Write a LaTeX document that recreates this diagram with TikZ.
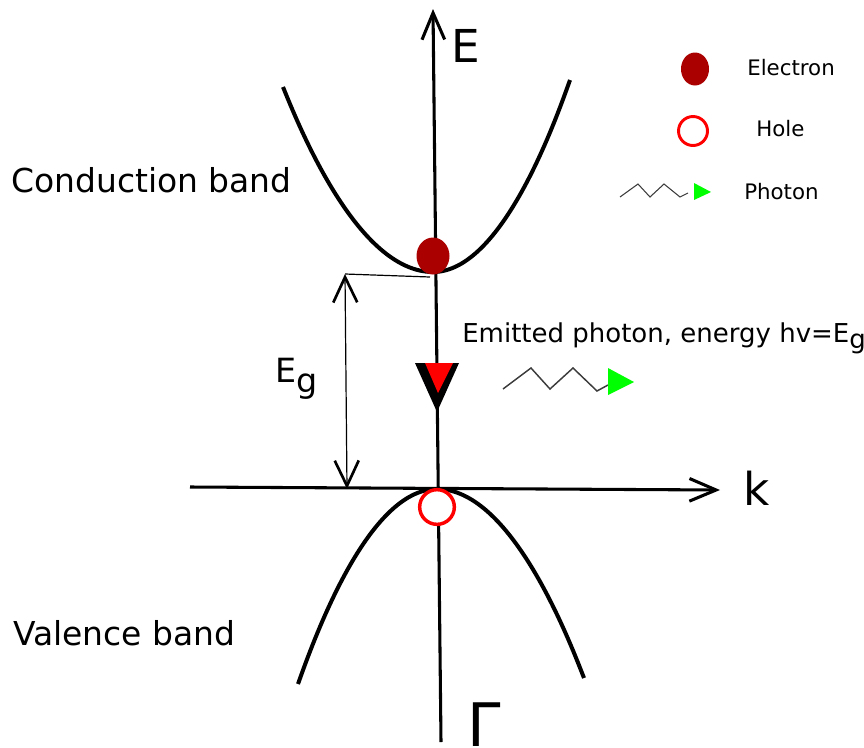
\documentclass[tikz,border=0pt]{standalone}
\usepackage{fontspec}
\setmainfont{DejaVu Sans}
\usepackage{xcolor}
\usepackage{tikz}
\usetikzlibrary{arrows.meta, positioning, shapes.geometric}
\definecolor{elecred}{RGB}{170, 0, 0}
\definecolor{holered}{RGB}{255, 0, 0}
\definecolor{photongreen}{RGB}{0, 255, 0}
\definecolor{wavegray}{RGB}{60, 60, 60}

\begin{document}
\begin{tikzpicture}[
  x=0.75pt, y=-0.75pt,
  axis/.style={line width=2.3pt, -{Straight Barb[length=20pt, width=17pt]}},
  band/.style={line width=3pt},
  gaparrow/.style={line width=0.9pt,
                   {Straight Barb[length=19pt, width=18pt, line width=2pt]}-{Straight Barb[length=19pt, width=18pt, line width=2pt]}},
  electron/.style={ellipse, fill=elecred, inner sep=0pt},
  hole/.style={circle, draw=holered, fill=white, inner sep=0pt},
  bigtxt/.style={font=\fontsize{34}{40}\selectfont, inner sep=0pt, anchor=base west},
  bandtxt/.style={font=\fontsize{24.7}{30}\selectfont, inner sep=0pt, anchor=base west},
  legtxt/.style={font=\fontsize{16}{19}\selectfont, inner sep=0pt, anchor=base west},
  wave/.style={draw=wavegray, line width=1.1pt}
]
\useasboundingbox (0,0) rectangle (864,747);

% bands
\draw[band] (283,87) parabola bend (433,272) (570,80);
\draw[band] (298,684) parabola bend (437,489) (584,678);

% axes
\coordinate (Ebot) at (441,742);
\coordinate (Etop) at (433,9);
\coordinate (kleft) at (190,487);
\coordinate (kright) at (720,490);
\draw[axis] (Ebot) -- (Etop);
\draw[axis] (kleft) -- (kright);
\node[bigtxt] (Elabel) at (451,62) {E};
\node[bigtxt] (klabel) at (743,505) {k};
\node[font=\fontsize{45}{50}\selectfont, inner sep=0pt, anchor=base west] (Gamma) at (467,746) {Γ};

% band gap
\coordinate (cbmin) at (430,277);
\coordinate (gaptop) at (345,274);
\coordinate (gapbot) at (347,489);
\draw[line width=0.9pt] (gaptop) -- (cbmin);
\draw[gaparrow] (gapbot) -- (gaptop);
\node[font=\fontsize{25}{30}\selectfont, inner sep=0pt, anchor=base west] (Eg) at (275,382) {E\raisebox{-8pt}{g}};

% recombination arrow
\fill (415,363) -- (459,363) -- (437,412) -- cycle;
\fill[holered] (425,363) -- (453,363) -- (438,393) -- cycle;

% carriers
\node[electron, minimum width=24.75pt, minimum height=27.75pt] (elec) at (433,256) {};
\node[hole, line width=2.6pt, minimum size=26pt] (hole) at (437,507) {};

% emitted photon
\node[font=\fontsize{19.5}{24}\selectfont, inner sep=0pt, anchor=base west] (emit) at (462,342)
  {Emitted photon, energy hv=E\raisebox{-5pt}{g}};
\draw[wave] (503,389) -- (531,368) -- (550,389) -- (573,368) -- (597,391) -- (608,385);
\fill[photongreen] (608,368) -- (608,395) -- (634,382) -- cycle;

% legend
\node[electron, minimum width=21pt, minimum height=24.75pt] (legelec) at (695,69) {};
\node[legtxt] (legeleclabel) at (747,75) {Electron};
\node[hole, line width=2.2pt, minimum size=21.75pt] (leghole) at (693,131) {};
\node[legtxt] (legholelabel) at (756,136) {Hole};
\draw[wave, line width=0.8pt] (620,197) -- (638,184) -- (650,197) -- (664,184) -- (680,197) -- (688,193);
\fill[photongreen] (694,183) -- (694,200) -- (711,192) -- cycle;
\node[legtxt] (legphotonlabel) at (744,199) {Photon};

% band names
\node[bandtxt] (cb) at (11,192) {Conduction band};
\node[bandtxt] (vb) at (13,645) {Valence band};

\end{tikzpicture}
\end{document}
